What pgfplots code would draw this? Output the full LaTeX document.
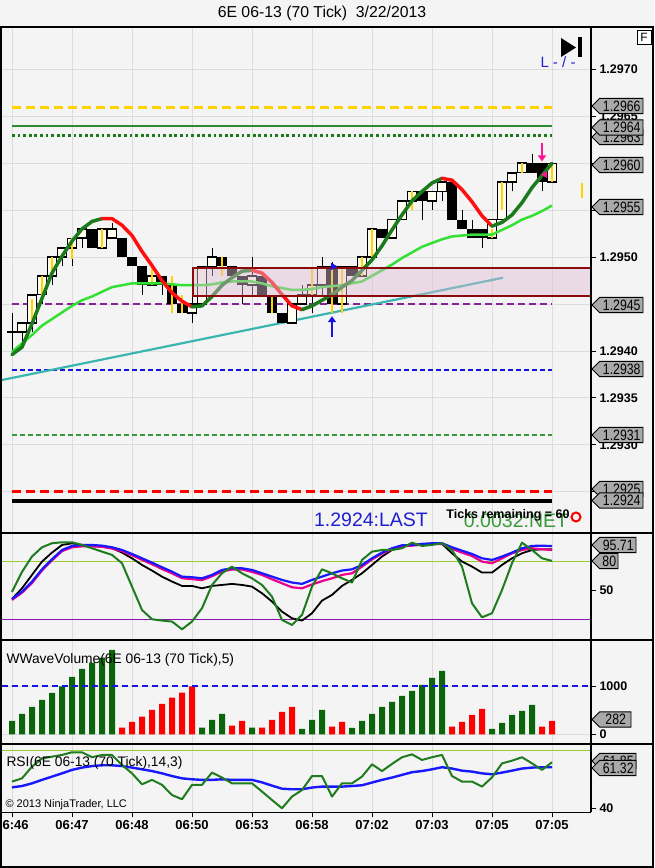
\documentclass[border=0pt]{standalone}
\usepackage{fontspec}
\setmainfont{Liberation Sans}
\newfontfamily\narrowfont{Liberation Sans}[FakeStretch=0.82]
\usepackage{pgfplots}
\usepackage{pgfplotstable}
\pgfplotsset{compat=1.18}
\usetikzlibrary{arrows.meta}

\definecolor{bgc}{HTML}{F4F4F4}
\definecolor{gridc}{HTML}{DCDCDC}
\definecolor{cream}{HTML}{FFFDF0}
\definecolor{goldc}{HTML}{FFD200}
\definecolor{fastg}{HTML}{1B7A1B}
\definecolor{fastr}{HTML}{FF1010}
\definecolor{slowg}{HTML}{33E033}
\definecolor{tealc}{HTML}{3AB5B0}
\definecolor{maroonc}{HTML}{8B0A0A}
\definecolor{rectfill}{HTML}{DDBBD3}
\definecolor{volg}{HTML}{0B650B}
\definecolor{flaggray}{HTML}{A9A9A9}
\definecolor{lvlgreen}{HTML}{2E8B2E}
\definecolor{lvlpurple}{HTML}{882299}
\definecolor{lvlblue}{HTML}{1515E0}
\definecolor{lvlgreen2}{HTML}{3A9A3A}
\definecolor{stg}{HTML}{1E7B1E}
\definecolor{stb}{HTML}{1818FF}
\definecolor{ygreen}{HTML}{99CC33}
\definecolor{spurple}{HTML}{8A10B0}
\definecolor{lastblue}{HTML}{2020D0}
\definecolor{netgreen}{HTML}{3A9A3A}
\definecolor{pinkc}{HTML}{FF1493}

% candles: up (close > open)
\pgfplotstableread{
i o h l c
1 1.2942 1.2943 1.2941 1.2943
2 1.2943 1.2946 1.2942 1.2946
3 1.2946 1.2948 1.2945 1.2948
4 1.2948 1.2950 1.2947 1.2950
5 1.2950 1.2951 1.2949 1.2951
6 1.2951 1.2952 1.2949 1.2952
7 1.2952 1.2953 1.2951 1.2953
9 1.2951 1.2953 1.2951 1.2953
10 1.2952 1.29536 1.2952 1.2953
14 1.2947 1.2949 1.2947 1.2948
18 1.2944 1.2947 1.2943 1.2945
19 1.2945 1.2949 1.2945 1.2949
20 1.2949 1.2951 1.2948 1.2950
24 1.2947 1.2950 1.2946 1.2948
28 1.2943 1.2945 1.2943 1.2945
29 1.2945 1.2947 1.2945 1.2946
30 1.2946 1.2948 1.2944 1.2947
31 1.2947 1.2950 1.2946 1.2949
33 1.2945 1.2949 1.2944 1.2949
35 1.2948 1.2950 1.2948 1.2950
36 1.2950 1.2953 1.2950 1.2953
38 1.2952 1.2954 1.2952 1.2954
39 1.2954 1.2956 1.2954 1.2956
40 1.2956 1.2957 1.2955 1.2957
42 1.2956 1.2957 1.2955 1.2957
43 1.2957 1.2958 1.2956 1.2958
48 1.2952 1.2954 1.2952 1.2954
49 1.2954 1.2958 1.2954 1.2958
50 1.2958 1.2959 1.2957 1.2959
51 1.2959 1.2960 1.2959 1.2960
54 1.2958 1.2960 1.2958 1.2960
}\upc

% candles: down (close < open)
\pgfplotstableread{
i o h l c
0 1.29421 1.2944 1.2940 1.29419
8 1.2953 1.2953 1.2951 1.2951
11 1.2952 1.2952 1.2950 1.2950
12 1.2950 1.2950 1.2949 1.2949
13 1.2949 1.2949 1.2946 1.2947
15 1.2948 1.2948 1.2946 1.2947
16 1.2947 1.2948 1.2944 1.2945
17 1.2945 1.2946 1.2944 1.2944
21 1.2950 1.2950 1.2948 1.2949
22 1.2949 1.2949 1.2948 1.2948
23 1.2948 1.2948 1.2945 1.2947
25 1.2948 1.2948 1.2946 1.2946
26 1.2946 1.2946 1.2944 1.2944
27 1.2944 1.2944 1.2943 1.2943
32 1.2949 1.29495 1.2944 1.2945
34 1.2949 1.2949 1.2948 1.2948
37 1.2953 1.2953 1.2952 1.2952
41 1.2957 1.2957 1.2954 1.2956
44 1.2958 1.2958 1.2954 1.2954
45 1.2954 1.2955 1.2953 1.2953
46 1.2953 1.2954 1.2952 1.2952
47 1.2953 1.2953 1.2951 1.2952
52 1.2960 1.2961 1.2959 1.2959
53 1.2960 1.2960 1.2957 1.2958
}\dnc

% yellow marks
\pgfplotstableread{
i lo hi
2 1.29433 1.29455
3 1.2946 1.2948
4 1.2948 1.2950
6 1.29498 1.2952
9 1.2951 1.2953
14 1.2947 1.2949
16 1.2944 1.2948
17 1.2944 1.2946
21 1.2948 1.2950
26 1.2944 1.2946
30 1.2946 1.29488
32 1.2944 1.2949
33 1.2944 1.29488
35 1.2948 1.2950
36 1.2950 1.2953
40 1.2955 1.2957
48 1.2952 1.2953
49 1.2955 1.2958
51 1.2959 1.2960
54 1.2958 1.2960
57 1.29563 1.29579
}\yel

\pgfplotstableread{
i p
0 1.29396
1 1.29404
2 1.29429
3 1.29456
4 1.29483
5 1.29501
6 1.29517
7 1.29530
8 1.29538
9 1.29541
10 1.29541
11 1.29534
12 1.29523
13 1.29506
14 1.29491
15 1.29475
16 1.29462
17 1.29453
18 1.29447
19 1.29448
20 1.29458
21 1.29470
22 1.29478
23 1.29485
24 1.29486
25 1.29483
26 1.29473
27 1.29460
28 1.29448
29 1.29444
30 1.29448
31 1.29454
32 1.29460
33 1.29468
34 1.29475
35 1.29486
36 1.29497
37 1.29512
38 1.29529
39 1.29545
40 1.29560
41 1.29570
42 1.29579
43 1.29584
44 1.29582
45 1.29572
46 1.29559
47 1.29544
48 1.29533
49 1.29537
50 1.29545
51 1.29558
52 1.29574
53 1.29587
54 1.29600
}\fastma

\pgfplotstableread{
i p
0 1.29399
1 1.29408
2 1.29417
3 1.29427
4 1.29434
5 1.29441
6 1.29448
7 1.29454
8 1.29458
9 1.29463
10 1.29468
11 1.29470
12 1.29472
13 1.29472
14 1.29472
15 1.29472
16 1.29471
17 1.29470
18 1.29470
19 1.29470
20 1.29471
21 1.29473
22 1.29474
23 1.29474
24 1.29474
25 1.29472
26 1.29469
27 1.29467
28 1.29465
29 1.29465
30 1.29466
31 1.29468
32 1.29469
33 1.29470
34 1.29472
35 1.29474
36 1.29480
37 1.29486
38 1.29492
39 1.29499
40 1.29505
41 1.29511
42 1.29515
43 1.29519
44 1.29522
45 1.29523
46 1.29524
47 1.29524
48 1.29524
49 1.29529
50 1.29534
51 1.29540
52 1.29544
53 1.29549
54 1.29555
}\slowma

\pgfplotstableread{
i g k m b
0 48.3 41 40 41
1 69 52 47.5 48.6
2 85 65.9 57.5 59
3 94.5 79.7 70.5 71.7
4 98.7 89 81 82.1
5 99.7 96.9 90.5 91.7
6 99.7 98.6 94.5 95.9
7 97 96.9 95.5 96.9
8 93.5 95.9 95.5 96.9
9 90 95.2 95 96.2
10 86.6 93.5 93.2 94.5
11 78 89 90.5 91.7
12 53.8 83.1 86.3 87.6
13 29.6 76.2 81.5 83.1
14 20 70.4 77 78.6
15 18.6 64.1 72 73.8
16 17.6 59 67.5 69.3
17 9.6 54.5 62.5 64.1
18 17.6 54.5 61.5 63.5
19 31.4 52 60.5 62.4
20 55.5 54.5 64.5 65.9
21 67.6 55.5 69.5 71
22 74.5 56.6 71.5 72.8
23 67.6 55.5 71.5 72.8
24 62.4 53.8 69 71
25 55.5 46.9 65.9 67.6
26 43.4 38.3 61.4 64.1
27 19.3 27.9 57.2 60.7
28 14.1 21 53.1 58
29 24.5 18.6 52 56.6
30 53.8 26.2 56 60.7
31 71.7 39.3 59.5 64.1
32 67.6 45.2 62.4 67.6
33 62.4 54.5 65.9 70.4
34 58 60.7 67.6 71.7
35 81.4 67.6 74.5 76.2
36 90 76.2 82 83.1
37 91.7 84.9 88 89
38 91.7 91.7 92.5 93.5
39 93.5 95.9 95.6 96.6
40 99.3 96.9 96.2 96.9
41 95.9 98 97.3 98
42 97 98 98 98.7
43 98.7 98 98 98.7
44 91.7 88.3 93 94.5
45 74.5 79.7 89 91
46 36.5 74.5 85.5 87.6
47 22 68.3 79.7 83.1
48 26.2 68.3 78 81.4
49 50.3 76.2 83.1 84.9
50 78 83.1 88.3 89
51 99.3 88.3 91.7 93.5
52 91.7 91.7 93.5 95.9
53 83.1 92.4 92.4 96.2
54 80.4 92.4 91.7 95.7
}\stoch

\pgfplotstableread{
i v
0 278
1 424
2 569
3 715
4 861
5 1000
6 1194
7 1361
8 1493
9 1597
10 1757
19 139
20 299
21 424
24 139
29 111
30 299
31 507
34 132
35 278
36 424
37 569
38 674
39 799
40 903
41 1028
42 1174
43 1319
48 111
49 236
50 403
51 486
52 611
}\volg

\pgfplotstableread{
i v
11 139
12 257
13 368
14 507
15 632
16 764
17 868
18 1000
22 181
23 278
25 139
26 299
27 465
28 569
32 160
33 257
44 160
45 257
46 403
47 528
53 160
54 282
}\volr

\pgfplotstableread{
i g b
0 53.9 50.9
1 55.6 51.6
2 61.7 53
3 66 54.8
4 66.9 56.5
5 67.8 58.2
6 69.2 60
7 69.2 61.2
8 66.6 62
9 67.8 62.4
10 67.8 62.4
11 62.6 62
12 58.2 61.2
13 52.5 60.3
14 54.8 59.4
15 52.2 58.2
16 46.9 56.8
17 44.7 55.6
18 52.2 55.1
19 52.2 54.8
20 58.6 54.8
21 56 55.1
22 53 54.8
23 53 54.8
24 53 54.8
25 48.7 53.5
26 44.3 51.8
27 40 50.2
28 46.1 49.9
29 49.5 49.9
30 56.8 50.8
31 56.8 51.3
32 46.1 51.3
33 53 51.3
34 53 51.6
35 56.5 52
36 62.9 53.4
37 59.4 54.8
38 63.1 56
39 66.6 57.4
40 68.1 58.8
41 65.2 59.4
42 66.6 60.3
43 67.8 61.4
44 56.8 60.7
45 53.9 59.6
46 53.9 59.1
47 51.3 58.2
48 56.1 57.7
49 63.4 58.6
50 64.8 59.6
51 66.6 60.7
52 63.4 61.2
53 60 61.4
54 64 61.4
}\rsi

\pgfplotsset{
  panel/.style={
    scale only axis, anchor=south west, width=589pt,
    xmin=-1, xmax=57.9,
    axis line style={draw=none},
    xtick={0,6,...,54}, xticklabels={},
    xmajorgrids, ymajorgrids,
    grid style={gridc, line width=0.7pt},
    ytick pos=right, yticklabel pos=right,
    tick align=outside, major tick length=5pt,
    major tick style={black, line width=0.8pt},
    major x tick style={draw=none},
    y tick label style={font=\bfseries\fontsize{12.5}{14}\selectfont},
  },
  ebar/.style={draw=none, mark=none, forget plot,
    error bars/.cd, y dir=plus, y explicit, error mark=none,
    error bar style={#1}},
}

\newcommand\pflag[3]{%
  \filldraw[fill=flaggray, draw=black, line width=0.9pt]
    (592,#1) -- (599.5,#1+7.6) -- (#2,#1+7.6) -- (#2,#1-7.6) -- (599.5,#1-7.6) -- cycle;
  \node[font=\narrowfont\fontsize{15}{16}\selectfont, inner sep=0pt] at ({(599.5+#2)/2+0.5},#1) {#3};}

\begin{document}
\begin{tikzpicture}[x=1pt,y=1pt]
\useasboundingbox (0,0) rectangle (654,868);
\fill[bgc] (0,0) rectangle (654,868);
\node[font=\fontsize{15.8}{18}\selectfont] at (322,855) {6E 06-13 (70 Tick)\ \ 3/22/2013};

% ---------------- main price panel ----------------
\begin{axis}[panel, at={(2pt,335pt)}, height=506pt,
  ymin=1.292059, ymax=1.297453,
  ytick={1.2925,1.2930,1.2935,1.2940,1.2945,1.2950,1.2955,1.2960,1.2965,1.2970},
  yticklabels={1.2925,1.2930,1.2935,1.2940,1.2945,1.2950,1.2955,1.2960,1.2965,1.2970}]
\addplot[goldc, line width=3pt, dash pattern=on 9pt off 5pt] coordinates {(0,1.2966) (54,1.2966)};
\addplot[lvlgreen, line width=2.4pt] coordinates {(0,1.2964) (54,1.2964)};
\addplot[fastg, line width=2.8pt, dash pattern=on 2.8pt off 2.8pt] coordinates {(0,1.2963) (54,1.2963)};
\addplot[lvlpurple, line width=2.4pt, dash pattern=on 7pt off 4pt] coordinates {(0,1.2945) (54,1.2945)};
\addplot[lvlblue, line width=2pt, dash pattern=on 5pt off 3pt] coordinates {(0,1.2938) (54,1.2938)};
\addplot[lvlgreen2, line width=2pt, dash pattern=on 5pt off 3pt] coordinates {(0,1.2931) (54,1.2931)};
\addplot[red, line width=3pt, dash pattern=on 9pt off 5pt] coordinates {(0,1.2925) (54,1.2925)};
\addplot[black, line width=3.5pt] coordinates {(0,1.2924) (54,1.2924)};
\addplot[tealc, line width=2.2pt] coordinates {(-1,1.29369) (49.1,1.29478)};
% wicks
\addplot[ebar={draw=black, line width=1pt}] table[x=i, y=l, y error plus expr=\thisrow{h}-\thisrow{l}] {\upc};
\addplot[ebar={draw=black, line width=1pt}] table[x=i, y=l, y error plus expr=\thisrow{h}-\thisrow{l}] {\dnc};
% bodies
\addplot[ebar={draw=black, line width=10pt}]
  table[x=i, y=c, y error plus expr=\thisrow{o}-\thisrow{c}] {\dnc};
\addplot[ebar={draw=black, line width=10pt, shorten <=-0.8pt, shorten >=-0.8pt}]
  table[x=i, y=o, y error plus expr=\thisrow{c}-\thisrow{o}] {\upc};
\addplot[ebar={draw=cream, line width=8pt, shorten <=0.9pt, shorten >=0.9pt}]
  table[x=i, y=o, y error plus expr=\thisrow{c}-\thisrow{o}] {\upc};
\addplot[ebar={draw=goldc, line width=1.7pt}]
  table[x=i, y=lo, y error plus expr=\thisrow{hi}-\thisrow{lo}] {\yel};
% moving averages
\addplot[slowg, line width=2.5pt, line join=round] table[x=i, y=p] {\slowma};
\addplot[fastg, line width=3.5pt, line join=round, line cap=round, restrict x to domain=0:9] table[x=i, y=p] {\fastma};
\addplot[fastr, line width=3.5pt, line join=round, line cap=round, restrict x to domain=9:18] table[x=i, y=p] {\fastma};
\addplot[fastg, line width=3.5pt, line join=round, line cap=round, restrict x to domain=18:24] table[x=i, y=p] {\fastma};
\addplot[fastr, line width=3.5pt, line join=round, line cap=round, restrict x to domain=24:29] table[x=i, y=p] {\fastma};
\addplot[fastg, line width=3.5pt, line join=round, line cap=round, restrict x to domain=29:43] table[x=i, y=p] {\fastma};
\addplot[fastr, line width=3.5pt, line join=round, line cap=round, restrict x to domain=43:48] table[x=i, y=p] {\fastma};
\addplot[fastg, line width=3.5pt, line join=round, line cap=round, restrict x to domain=48:54] table[x=i, y=p] {\fastma};
% zone rectangle
\addplot[draw=maroonc, line width=2pt, fill=rectfill, fill opacity=0.45]
  coordinates {(18.1,1.29459) (58.5,1.29459) (58.5,1.29488) (18.1,1.29488)} -- cycle;
% signals
\addplot[lvlblue, line width=2.6pt, -{Triangle[length=6pt,width=8pt]}] coordinates {(32,1.29415) (32,1.29437)};
\addplot[only marks, mark=triangle*, mark size=4pt, mark options={rotate=-90, fill=lvlblue, draw=lvlblue}] coordinates {(32.1,1.29490)};
\addplot[pinkc, line width=2.6pt, -{Triangle[length=6pt,width=8pt]}] coordinates {(53,1.29622) (53,1.29602)};
\addplot[only marks, mark=triangle*, mark size=3.5pt, mark options={rotate=90, fill=pinkc, draw=pinkc}] coordinates {(53.3,1.29588)};
\end{axis}

% ---------------- stochastics ----------------
\begin{axis}[panel, at={(2pt,228pt)}, height=107pt,
  ymin=-1.5, ymax=109.3, ymajorgrids=false,
  ytick={50,80}, yticklabels={50,80}]
\addplot[ygreen, line width=1.2pt] coordinates {(-1,80) (57.9,80)};
\addplot[spurple, line width=1.2pt] coordinates {(-1,20) (57.9,20)};
\addplot[black, line width=1.8pt, line join=round] table[x=i, y=k] {\stoch};
\addplot[magenta, line width=2.2pt, line join=round] table[x=i, y=m] {\stoch};
\addplot[stb, line width=2.2pt, line join=round] table[x=i, y=b] {\stoch};
\addplot[stg, line width=2pt, line join=round] table[x=i, y=g] {\stoch};
\end{axis}

% ---------------- volume ----------------
\begin{axis}[panel, at={(2pt,124pt)}, height=104pt,
  ymin=-202, ymax=1964,
  ytick={0,1000}, yticklabels={0,1000}]
\addplot[ybar, bar width=6pt, bar shift=0pt, fill=volg, draw=none] table[x=i, y=v] {\volg};
\addplot[ybar, bar width=6pt, bar shift=0pt, fill=red, draw=none] table[x=i, y=v] {\volr};
\addplot[lvlblue, line width=2pt, dash pattern=on 6pt off 4pt] coordinates {(-1,1000) (57.9,1000)};
\end{axis}

% ---------------- RSI ----------------
\begin{axis}[panel, at={(2pt,55.7pt)}, height=68.3pt,
  ymin=37.9, ymax=73.5, ymajorgrids=false,
  ytick={40}, yticklabels={40},
  xtick pos=left,
  xticklabels={06:46,06:47,06:48,06:50,06:53,06:58,07:02,07:03,07:05,07:05},
  major x tick style={draw=black, line width=0.8pt},
  x tick label style={font=\bfseries\fontsize{13}{14}\selectfont}]
\addplot[ygreen, line width=1.2pt] coordinates {(-1,70) (57.9,70)};
\addplot[stb, line width=2.4pt, line join=round] table[x=i, y=b] {\rsi};
\addplot[stg, line width=2pt, line join=round] table[x=i, y=g] {\rsi};
\end{axis}

% ---------------- frame and separators ----------------
\draw[black, line width=1.2pt] (1,335) -- (653,335);
\draw[black, line width=1.2pt] (1,228) -- (653,228);
\draw[black, line width=1.2pt] (1,124) -- (653,124);
\draw[black, line width=1.2pt] (1,55.7) -- (591,55.7);
\draw[black, line width=1.2pt] (591,55.7) -- (591,841);
\draw[black, line width=1.2pt] (1,1) rectangle (653,841);

% ---------------- price flags ----------------
\pflag{762}{643}{1.2966}
\pflag{731}{643}{1.2963}
\pflag{740.5}{643}{1.2964}
\pflag{703}{643}{1.2960}
\pflag{661}{643}{1.2955}
\pflag{563}{643}{1.2945}
\pflag{499}{643}{1.2938}
\pflag{433}{643}{1.2931}
\pflag{379}{643}{1.2925}
\pflag{367.5}{643}{1.2924}
\pflag{307}{618}{80}
\pflag{323}{636}{95.71}
\pflag{148.5}{631}{282}
\pflag{107}{636}{61.85}
\pflag{100}{636}{61.32}

% ---------------- texts and icons ----------------
\node[text=lastblue, font=\fontsize{19.5}{20}\selectfont] at (371,348) {1.2924:LAST};
\node[text=netgreen, font=\fontsize{19.5}{20}\selectfont] at (516,347) {0.0032:NET};
\node[font=\bfseries\fontsize{12.5}{13}\selectfont] at (508,353) {Ticks remaining = 60};
\draw[red, line width=2pt] (576,351) circle (4.5);
\node[text=lastblue, font=\fontsize{15}{16}\selectfont] at (558,806) {L - / -};
\fill[black] (561,830) -- (561,811) -- (576,820.5) -- cycle;
\fill[black] (577.5,831) rectangle (581.5,811);
\node[draw=black, fill=white, line width=0.8pt, minimum width=14pt, minimum height=14pt, inner sep=0pt, font=\fontsize{12}{12}\selectfont] at (644,830.5) {F};
\node[anchor=west, font=\fontsize{13.8}{15}\selectfont] at (3,208) {WWaveVolume(6E 06-13 (70 Tick),5)};
\node[anchor=west, font=\fontsize{13.8}{15}\selectfont] at (3,105) {RSI(6E 06-13 (70 Tick),14,3)};
\node[anchor=west, font=\fontsize{11}{12}\selectfont] at (2,63) {\textcopyright\ 2013 NinjaTrader, LLC};
\end{tikzpicture}
\end{document}
